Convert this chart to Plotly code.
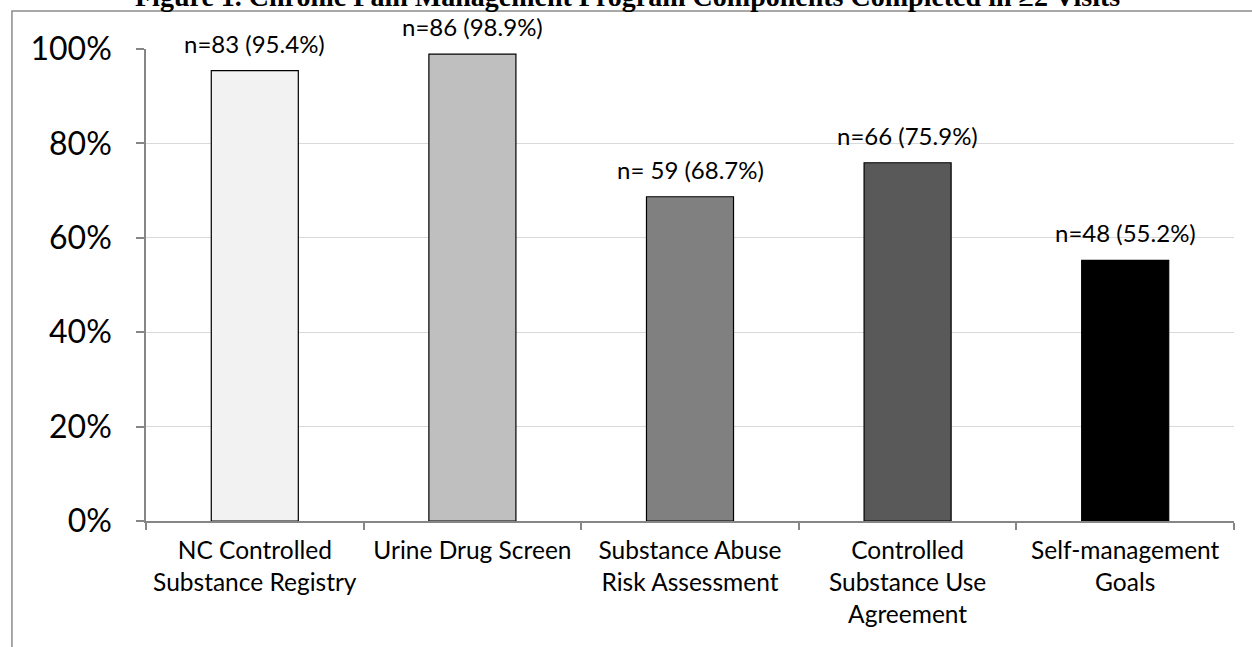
import plotly.graph_objects as go

# Program components (x-axis categories) and completion data
components = [
    "NC Controlled<br>Substance Registry",
    "Urine Drug Screen",
    "Substance Abuse<br>Risk Assessment",
    "Controlled<br>Substance Use<br>Agreement",
    "Self-management<br>Goals",
]
patients_n = [83, 86, 59, 66, 48]
percent_completed = [95.4, 98.9, 68.7, 75.9, 55.2]
label_prefix = ["n=", "n=", "n= ", "n=", "n="]
bar_colors = ["#f2f2f2", "#bfbfbf", "#808080", "#595959", "#000000"]

y_tick_vals = [0, 20, 40, 60, 80, 100]
y_tick_text = ["0%", "20%", "40%", "60%", "80%", "100%"]

title_text = "Figure 1. Chronic Pain Management Program Components Completed in \u22652 Visits"

FONT = "Lato, 'Open Sans', sans-serif"
AXIS_GREY = "#868686"

fig = go.Figure()
fig.add_trace(
    go.Bar(
        x=components,
        y=percent_completed,
        width=0.4,
        marker=dict(color=bar_colors, line=dict(color="#000000", width=1.2)),
        hoverinfo="skip",
    )
)

# value labels above each bar
for comp, n, pct, pre in zip(components, patients_n, percent_completed, label_prefix):
    fig.add_annotation(
        x=comp, y=pct, xref="x", yref="y",
        text=f"{pre}{n} ({pct:.1f}%)",
        showarrow=False, yanchor="bottom", yshift=11,
        font=dict(family=FONT, size=24, color="#000000"),
    )

# figure title (sits partly above the page edge)
fig.add_annotation(
    x=0.443, y=1, xref="paper", yref="paper",
    text=f"<b>{title_text}</b>",
    showarrow=False, yanchor="bottom", yshift=35,
    font=dict(family="'Liberation Serif', serif", size=28, color="#000000"),
)

# chart frame border
fig.add_shape(
    type="rect", xref="paper", yref="paper",
    x0=-0.1232, x1=1.05, y0=-0.35, y1=1.0805,
    line=dict(color="#8c8c8c", width=1.5), fillcolor="rgba(0,0,0,0)",
    layer="below",
)

fig.update_layout(
    width=1252, height=647,
    margin=dict(l=146, r=18, t=49, b=126),
    paper_bgcolor="white", plot_bgcolor="white",
    showlegend=False,
    font=dict(family=FONT, color="#000000"),
    bargap=0.6,
)
fig.update_xaxes(
    showline=True, linecolor=AXIS_GREY, linewidth=1.5,
    ticks="outside", tickson="boundaries", ticklen=7, tickcolor=AXIS_GREY, tickwidth=1.5,
    showgrid=False,
    tickfont=dict(family=FONT, size=24.5, color="#000000"),
    ticklabelstandoff=7,
)
fig.update_yaxes(
    range=[0, 100],
    tickvals=y_tick_vals, ticktext=y_tick_text,
    showline=True, linecolor=AXIS_GREY, linewidth=1.5,
    ticks="outside", ticklen=8, tickcolor=AXIS_GREY, tickwidth=1.5,
    showgrid=True, gridcolor="#d9d9d9", gridwidth=1.2,
    zeroline=False,
    tickfont=dict(family=FONT, size=32, color="#000000"),
    ticklabelstandoff=18,
)

fig.write_html("out.html")
